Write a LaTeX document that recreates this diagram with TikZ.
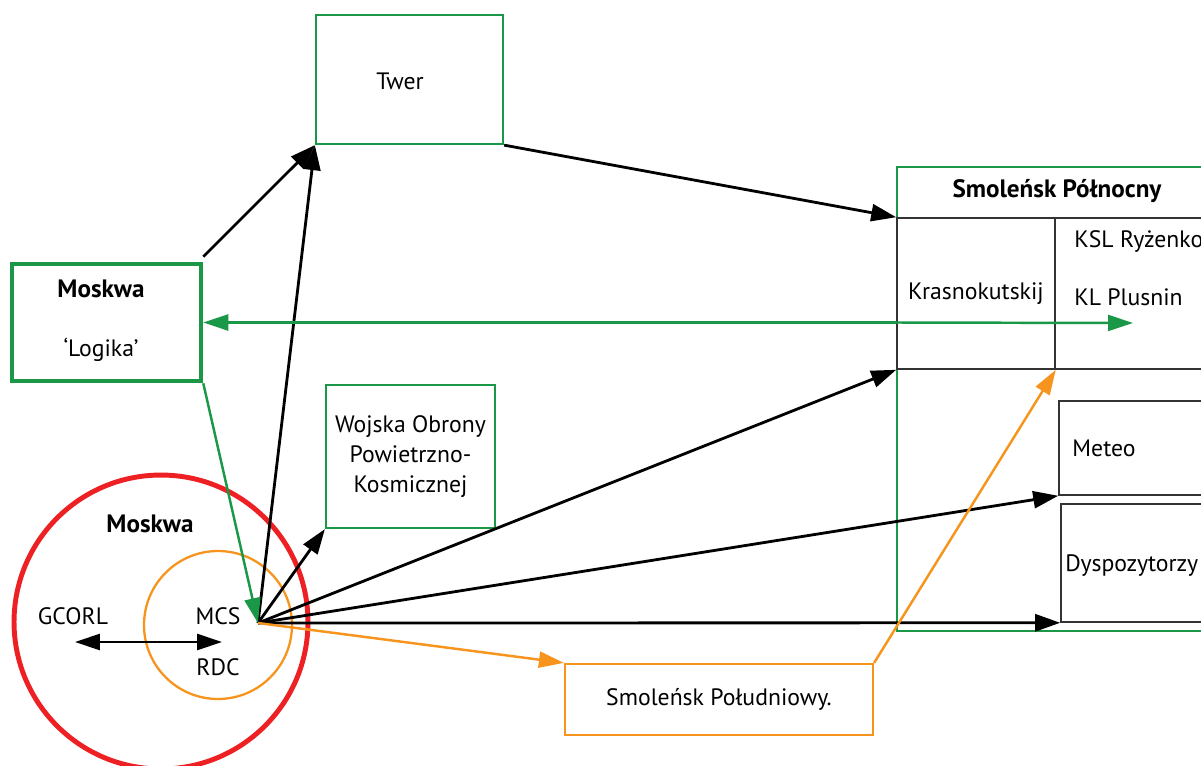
\documentclass[tikz,border=0pt]{standalone}
\usepackage{fontspec}
\setmainfont{PT Sans}
\usepackage{xcolor}
\usetikzlibrary{arrows.meta,positioning}
\definecolor{zielony}{RGB}{26,152,72}
\definecolor{czerwony}{RGB}{237,32,36}
\definecolor{pomarancz}{RGB}{247,148,29}
\newcommand{\tytul}[1]{{\fontsize{14.3}{17}\selectfont\bfseries #1}}

\begin{document}
\begin{tikzpicture}[
  x=0.02cm, y=-0.02cm,
  font=\fontsize{13.5}{17}\selectfont,
  box/.style={rectangle, draw=zielony, line width=1.3pt, inner sep=0pt, align=center},
  cell/.style={rectangle, draw=black!80, line width=0.9pt, inner sep=0pt},
  txt/.style={inner sep=0pt},
  arr/.style={-{Triangle[length=5mm, width=3.4mm]}, line width=1.6pt},
  garr/.style={-{Triangle[length=5mm, width=3.2mm]}, line width=1.4pt, zielony},
  oarr/.style={-{Triangle[length=5mm, width=3.2mm]}, line width=1.4pt, pomarancz}
]
\useasboundingbox (0,0) rectangle (1201,765);
\clip (0,0) rectangle (1201,765);

% Moskwa circles
\node[circle, draw=czerwony, line width=2.8pt, minimum size=5.88cm, inner sep=0pt] (moskwa) at (161,622) {};
\node[circle, draw=pomarancz, line width=1.3pt, minimum size=2.96cm, inner sep=0pt] (mcsring) at (218,625) {};
\node[txt] (moskwat) at (150,524) {\tytul{Moskwa}};
\node[txt] (gcorl) at (73,616) {GCORL};
\node[txt] (mcs) at (218,616) {MCS};
\node[txt] (rdc) at (218,667) {RDC};
\coordinate (gl) at (75,642);
\coordinate (rd) at (222,642);
\coordinate (hub) at (258,623);

% boxes
\node[box, minimum width=3.74cm, minimum height=2.58cm] (twer) at (409.5,79.5) {};
\node[txt] (twert) at (400,81) {Twer};
\node[box, line width=2.6pt, minimum width=3.78cm, minimum height=2.34cm] (logika) at (106.5,322.5) {};
\node[txt, align=center] (logikat) at (101,321) {\tytul{Moskwa}\\[0.58cm]‘Logika’};
\node[box, minimum width=3.38cm, minimum height=2.86cm] (wojska) at (410.5,456.5)
  {Wojska Obrony\\Powietrzno-\\Kosmicznej};
\node[box, draw=pomarancz, minimum width=6.16cm, minimum height=1.42cm] (smpd) at (719,699.5)
  {Smoleńsk Południowy.};

% Smolensk Polnocny
\node[box, minimum width=6.66cm, minimum height=9.28cm] (smpn) at (1063.5,399) {};
\node[txt] (smpnt) at (1057,191) {\tytul{Smoleńsk Północny}};
\node[cell, minimum width=3.16cm, minimum height=3.02cm] (krasno) at (976,293.5) {Krasnokutskij};
\node[cell, minimum width=3.5cm, minimum height=3.02cm] (ksl) at (1142.5,293.5) {};
\node[txt, anchor=west] (ryzenko) at (1074,241) {KSL Ryżenko};
\node[txt, anchor=west] (plusnin) at (1074,297) {KL Plusnin};
\coordinate (kl) at (1133,323);
\node[cell, minimum width=3.42cm, minimum height=1.88cm] (meteo) at (1144.5,448) {};
\node[txt] (meteot) at (1104,448) {Meteo};
\node[cell, minimum width=3.38cm, minimum height=2.36cm] (dysp) at (1145.5,563) {};
\node[txt, anchor=west] (dyspt) at (1065,566) {Dyspozytorzy};

% connectors
\draw[{Triangle[length=5mm, width=3.2mm]}-{Triangle[length=5mm, width=3.2mm]}, line width=1.6pt] (gl) -- (rd);
\draw[arr] ([yshift=0.1cm]logika.north east) -- (twer.south west);
\draw[arr] (hub) -- (twer.south west);
\draw[arr] (twer.south east) -- (krasno.north west);
\draw[arr] (hub) -- (wojska.south west);
\draw[arr] (hub) -- (krasno.south west);
\draw[arr] (hub) -- (meteo.south west);
\draw[arr] (hub) -- (dysp.south west);
\draw[garr] (logika.south east) -- (hub);
\draw[garr, {Triangle[length=5mm, width=3.2mm]}-] (logika.east) -- (krasno.west |- logika.east);
\draw[garr] (krasno.west |- logika.east) -- (kl);
\draw[oarr] (hub) -- (smpd.north west);
\draw[oarr] (smpd.north east) -- (krasno.south east);
\end{tikzpicture}
\end{document}
